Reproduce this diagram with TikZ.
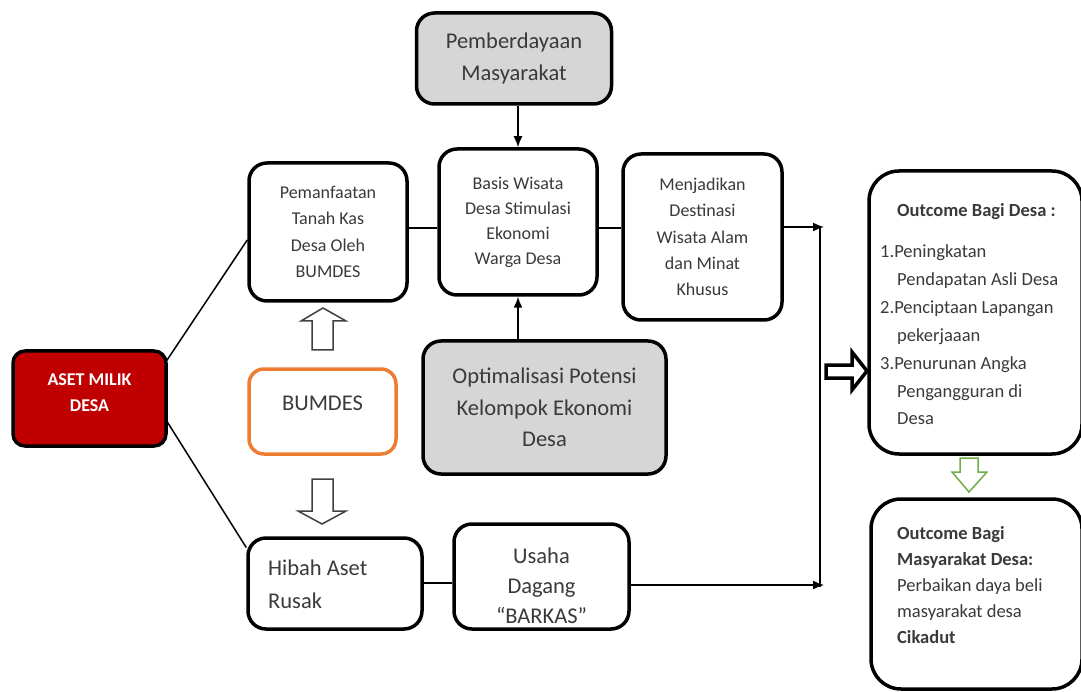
\documentclass[tikz,border=0pt]{standalone}
\usepackage{fontspec}
\setmainfont{Carlito}
\usetikzlibrary{arrows.meta,calc}
\definecolor{txt}{HTML}{3A3A3A}
\definecolor{grayfill}{HTML}{D6D6D6}
\definecolor{asetred}{HTML}{C00000}
\definecolor{bumorange}{HTML}{ED7D31}
\definecolor{arrgreen}{HTML}{70AD47}
\newcommand{\fsz}[2]{\fontsize{#1}{#2}\selectfont}
\begin{document}
\begin{tikzpicture}[x=1pt,y=-1pt,
  box/.style={draw=black, line width=3.5pt, rounded corners=18pt, fill=white, align=center, text=txt, inner sep=0pt},
  conn/.style={draw=black, line width=1.5pt},
  tipped/.style={-{Latex[length=11pt,width=9pt]}},
  hollow/.style={draw=black!75, line width=1.5pt, fill=white, line join=miter},
  plain/.style={text=txt, inner sep=0pt}]
\clip (0,0) rectangle (1081,692);
\fill[white] (0,0) rectangle (1081,692);

% boxes
\node[box, fill=grayfill, minimum width=195pt, minimum height=91pt, font=\fsz{22.5}{32}] (pem) at (514,58.5) {Pemberdayaan\\Masyarakat};
\node[box, minimum width=158pt, minimum height=146pt, font=\fsz{18}{25}] (basis) at (518,222) {Basis Wisata\\Desa Stimulasi\\Ekonomi\\Warga Desa};
\node[box, minimum width=158pt, minimum height=138pt, font=\fsz{18}{26.5}] (pman) at (328,232) {Pemanfaatan\\Tanah Kas\\Desa Oleh\\BUMDES};
\node[box, minimum width=159pt, minimum height=166pt, font=\fsz{18}{26.3}] (menj) at (702.5,237) {Menjadikan\\Destinasi\\Wisata Alam\\dan Minat\\Khusus};
\node[box, fill=asetred, rounded corners=12pt, minimum width=153pt, minimum height=95pt] (aset) at (89.5,398.5) {};
\node[plain, text=white, align=center, font=\bfseries\fsz{18}{26}] (asett) at (89.5,392.5) {ASET MILIK\\DESA};
\node[box, draw=bumorange, rounded corners=15pt, minimum width=147pt, minimum height=85pt] (bum) at (322.5,411.5) {};
\node[plain, font=\fsz{22.5}{30}] (bumt) at (322.5,403) {BUMDES};
\node[box, fill=grayfill, minimum width=243pt, minimum height=133pt, font=\fsz{22.5}{31.5}] (opt) at (544.5,407.5) {Optimalisasi Potensi\\Kelompok Ekonomi\\Desa};
\node[box, minimum width=174pt, minimum height=91pt] (hib) at (335,583.5) {};
\node[plain, align=left, anchor=west, font=\fsz{22.5}{33}] (hibt) at (268,584) {Hibah Aset\\Rusak};
\node[box, minimum width=175pt, minimum height=105pt] (usa) at (541.5,576.5) {};
\node[plain, align=center, font=\fsz{22.5}{30}] (usat) at (541.5,586) {Usaha\\Dagang\\“BARKAS”};
\node[box, rounded corners=30pt, minimum width=213pt, minimum height=283pt] (od) at (975.5,312.5) {};
\node[plain, align=left, anchor=north west, font=\fsz{18.5}{27.9}] (odt) at (880,203) {{\bfseries\hspace*{17pt}Outcome Bagi Desa :}\\[13.5pt]
1.Peningkatan\\
\hspace*{17pt}Pendapatan Asli Desa\\
2.Penciptaan Lapangan\\
\hspace*{17pt}pekerjaaan\\
3.Penurunan Angka\\
\hspace*{17pt}Pengangguran di\\
\hspace*{17pt}Desa};
\node[box, rounded corners=30pt, minimum width=211pt, minimum height=190pt] (om) at (976.5,594) {};
\node[plain, align=left, anchor=north west, font=\fsz{18.5}{26}] (omt) at (897,526) {{\bfseries Outcome Bagi}\\
{\bfseries Masyarakat Desa:}\\
Perbaikan daya beli\\
masyarakat desa\\
{\bfseries Cikadut}};

% junction coordinates
\coordinate (jt) at (824,227);
\coordinate (jb) at (824,585);
\coordinate (vt) at (820,227);
\coordinate (vb) at (820,587);

% connectors
\draw[conn] ($(aset.east)+(-1,-38)$) -- ($(pman.west)+(0,8)$);
\draw[conn] ($(aset.east)+(-2,21)$) -- ($(hib.west)+(0,-36)$);
\draw[conn] (pman.east |- 0,228) -- (basis.west |- 0,228);
\draw[conn] (basis.east |- 0,228) -- (menj.west |- 0,228);
\draw[conn] (hib.east |- 0,583) -- (usa.west |- 0,583);
\draw[conn, tipped] (pem.south -| basis.north) -- (basis.north);
\draw[conn, tipped] (opt.north -| basis.south) -- (basis.south);
\draw[conn, tipped] (menj.east |- jt) -- (jt);
\draw[conn, tipped] (usa.east |- jb) -- (jb);
\draw[conn] (vt) -- (vb);

% hollow block arrows
\draw[hollow] (312,350) -- (312,321) -- (301,321) -- (323,308) -- (346,321) -- (333,321) -- (333,350) -- cycle;
\draw[hollow] (312,479) -- (312,511) -- (298,511) -- (322,524) -- (346,511) -- (333,511) -- (333,479) -- cycle;
\draw[hollow, draw=black, line width=3.5pt] (826,365) -- (852,365) -- (852,352) -- (867,371) -- (852,390) -- (852,378) -- (826,378) -- cycle;
\draw[hollow, draw=arrgreen] (960,458) -- (978,458) -- (978,472) -- (987,472) -- (969,492) -- (952,472) -- (960,472) -- cycle;
\end{tikzpicture}
\end{document}
